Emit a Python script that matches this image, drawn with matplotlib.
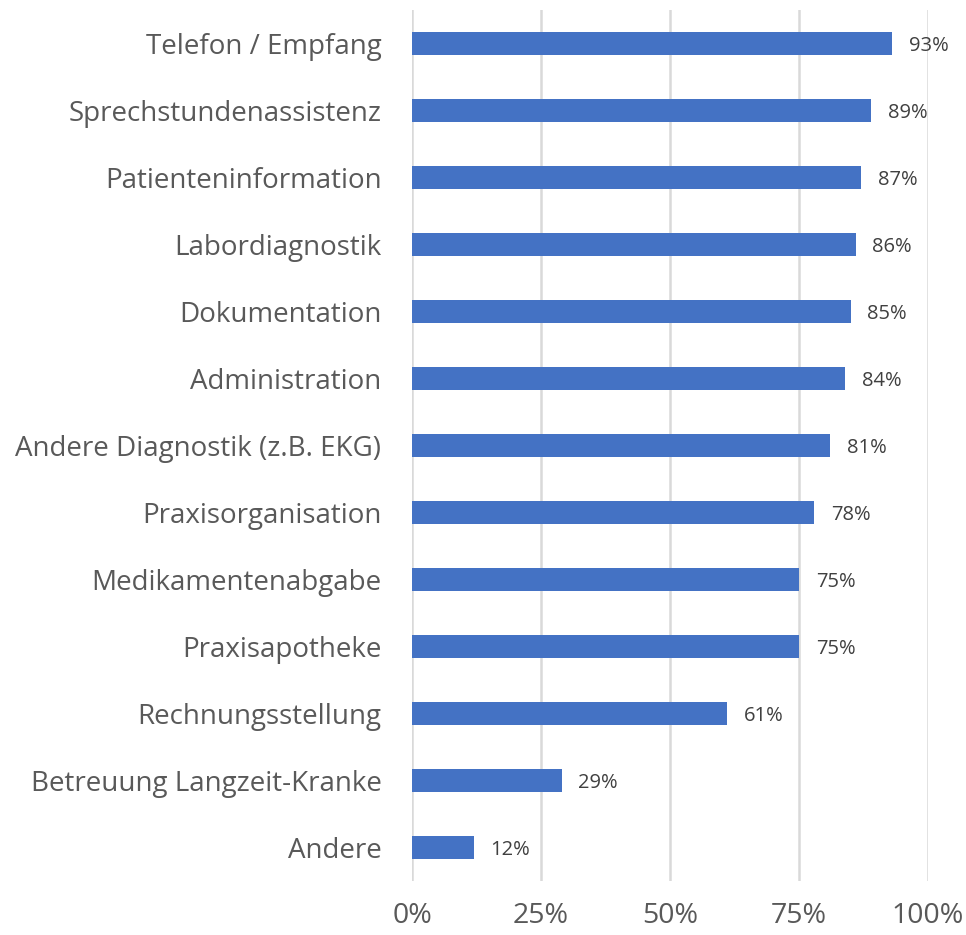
import matplotlib
matplotlib.use("Agg")
import matplotlib.pyplot as plt
from matplotlib.ticker import FuncFormatter

categories = ["Telefon / Empfang", "Sprechstundenassistenz", "Patienteninformation",
              "Labordiagnostik", "Dokumentation", "Administration",
              "Andere Diagnostik (z.B. EKG)", "Praxisorganisation", "Medikamentenabgabe",
              "Praxisapotheke", "Rechnungsstellung", "Betreuung Langzeit-Kranke", "Andere"]
values = [93, 89, 87, 86, 85, 84, 81, 78, 75, 75, 61, 29, 12]
xticks = [0, 25, 50, 75, 100]

plt.rcParams['font.family'] = ['Open Sans', 'DejaVu Sans']

fig = plt.figure(figsize=(9.66, 9.35), dpi=100)
ax = fig.add_axes([412/966, 1-881/935, (928-412)/966, (881-10)/935])

y = list(range(len(categories)))
ax.barh(y, values, height=0.34, color="#4472C4", zorder=3)
ax.set_ylim(len(categories)-0.5, -0.5)
ax.set_xlim(0, 100)
ax.set_yticks(y)
ax.set_yticklabels(categories, fontsize=20, color="#595959")
ax.set_xticks(xticks)
ax.xaxis.set_major_formatter(FuncFormatter(lambda v, p: f"{int(v)}%"))
ax.tick_params(axis='x', labelsize=20.5, labelcolor="#595959", length=0, pad=15)
ax.tick_params(axis='y', length=0, pad=22)
for s in ax.spines.values():
    s.set_visible(False)
ax.grid(axis='x', color="#D9D9D9", linewidth=1.8, zorder=0)
ax.set_axisbelow(True)

for yi, v in zip(y, values):
    ax.annotate(f"{v}%", xy=(v, yi), xytext=(12, 0), textcoords="offset points",
                va="center_baseline", ha="left", fontsize=14.5, color="#404040")

fig.savefig("out.png", dpi=100)
